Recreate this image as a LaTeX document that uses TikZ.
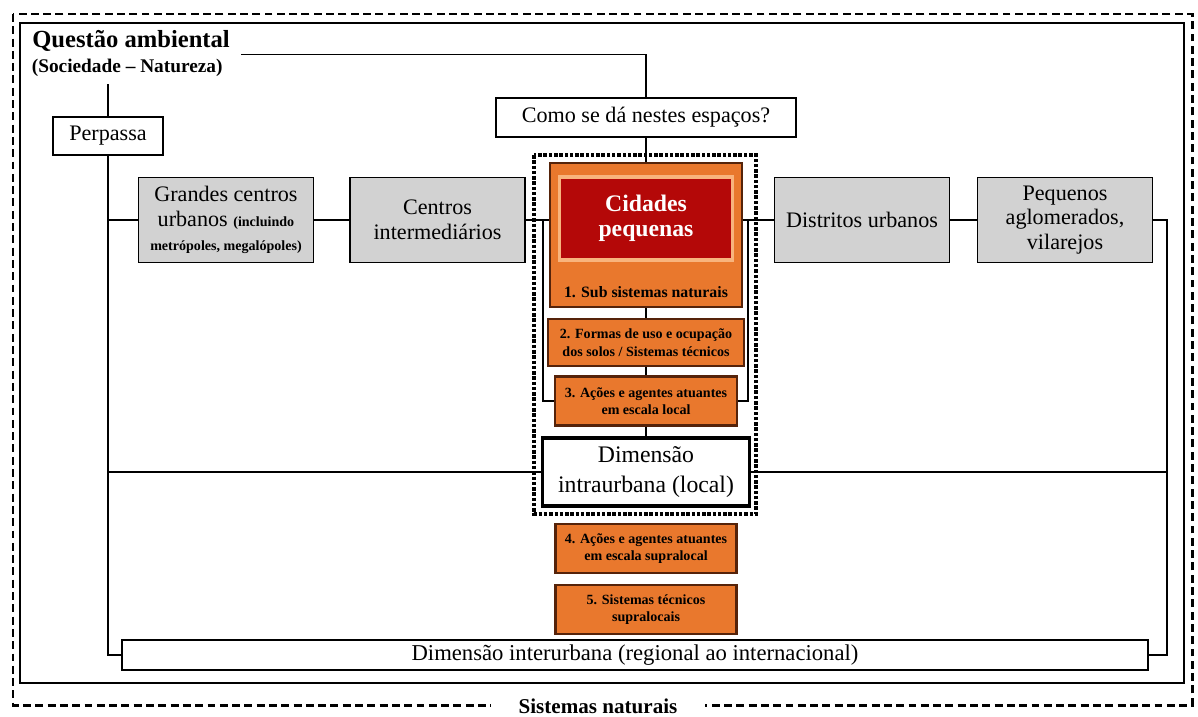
\documentclass[tikz,border=0pt]{standalone}
\usepackage{fontspec}
\setmainfont{Liberation Serif}
\usetikzlibrary{positioning}
\definecolor{boxgray}{RGB}{210,210,210}
\definecolor{cidorange}{RGB}{233,120,45}
\definecolor{cidred}{RGB}{180,8,8}
\definecolor{cidedge}{RGB}{85,35,10}
\definecolor{glow}{RGB}{248,180,125}
\newcommand{\smallnote}[1]{{\fontsize{8}{14}\bfseries\selectfont #1}}

\begin{document}
\begin{tikzpicture}[x=0.02cm,y=-0.02cm,inner sep=0pt,align=center,
	link/.style={draw,line width=0.7pt},
	whitebox/.style={draw,line width=1pt,fill=white},
	graybox/.style={draw,line width=1.1pt,fill=boxgray,minimum width=3.5cm,minimum height=1.7cm,font=\fontsize{12.6}{14}\selectfont},
	orangebox/.style={draw=cidedge,line width=1.2pt,fill=cidorange,minimum width=3.62cm,minimum height=0.98cm,font=\fontsize{8}{10}\bfseries\selectfont}]
	\useasboundingbox (0,0) rectangle (1198,717);
	% frames
	\draw[line width=1.7pt,dash pattern=on 4.5pt off 2.5pt] (13,14) rectangle (1192,705);
	\draw[line width=0.8pt] (20,23) rectangle (1184,683);
	\node[fill=white,inner xsep=0.55cm,inner ysep=2pt,font=\fontsize{12}{14}\bfseries\selectfont] (natural) at (598,706) {Sistemas naturais};
	
	\node[anchor=base west,inner xsep=0.22cm,inner ysep=0.06cm,font=\fontsize{14}{16}\bfseries\selectfont] (questao) at (21,47) {Questão ambiental};
	\node[anchor=base west,inner sep=0.15cm,font=\fontsize{11}{13}\bfseries\selectfont] (socnat) at (24,72) {(Sociedade – Natureza)};
	\node[whitebox,minimum width=2.2cm,minimum height=0.76cm,font=\fontsize{12.6}{14}\selectfont] (perpassa) at (108,136) {Perpassa};
	\node[whitebox,minimum width=6cm,minimum height=0.78cm,font=\fontsize{12.6}{14}\selectfont] (como) at (646,117.5) {Como se dá nestes espaços?};
	
	% row of places
	\node[graybox] (grandes) at (226,220) {Grandes centros\\urbanos \smallnote{(incluindo}\\\smallnote{metrópoles, megalópoles)}};
	\node[graybox] (centros) at (437.5,220) {Centros\\intermediários};
	\node[graybox] (distritos) at (862,220) {Distritos urbanos};
	\node[graybox] (pequenos) at (1065,220) {Pequenos\\aglomerados,\\vilarejos};
	
	% local dimension
	\draw[line width=2pt,densely dotted] (534,155) rectangle (756,514);
	\node[draw=cidedge,line width=1.2pt,fill=cidorange,minimum width=3.84cm,minimum height=2.88cm] (cidbox) at (646,235) {};
	\node[draw=glow,line width=2pt,fill=cidred,text=white,minimum width=3.46cm,minimum height=1.66cm,font=\fontsize{13.5}{14.5}\bfseries\selectfont] (cidades) at (646,218.5) {Cidades\\pequenas};
	\node[font=\fontsize{9}{11}\bfseries\selectfont] (sub1) at (646,292) {1. Sub sistemas naturais};
	\node[orangebox,minimum width=3.92cm,minimum height=0.94cm] (formas) at (646,342.5) {2. Formas de uso e ocupação\\dos solos / Sistemas técnicos};
	\node[orangebox,minimum width=3.64cm] (acoes) at (646,401) {3. Ações e agentes atuantes\\em escala local};
	\node[whitebox,line width=1.8pt,minimum width=4.14cm,minimum height=1.36cm,font=\fontsize{13.5}{17}\selectfont] (intra) at (646,472) {Dimensão\\intraurbana (local)};
	
	% supralocal
	\node[orangebox] (supra) at (646,548.5) {4. Ações e agentes atuantes\\em escala supralocal};
	\node[orangebox,below=0.2cm of supra] (tecnicos) {5. Sistemas técnicos\\supralocais};
	\node[whitebox,minimum width=20.52cm,minimum height=0.6cm,font=\fontsize{12.9}{14}\selectfont] (inter) at (635,655) {Dimensão interurbana (regional ao internacional)};
	
	\coordinate (rjoin) at (1167,220);
	\coordinate (lbrace) at (543,220);
	\coordinate (rbrace) at (748,220);
	
	\path[link] (questao.south east) -| (como.north);
	\path[link] (perpassa.north) edge (perpassa.north |- socnat.south)
	(grandes.west -| perpassa.south) edge (grandes.west)
	(grandes) edge (centros)
	(centros) edge (centros -| cidbox.west)
	(cidbox.east |- distritos) edge (distritos)
	(distritos) edge (pequenos)
	(como) edge (como |- cidbox.north)
	(cidbox) edge (formas)
	(formas) edge (acoes)
	(acoes) edge (intra)
	(perpassa.south |- intra.west) edge (intra.west)
	(intra.east) edge (rjoin |- intra.east);
	\draw[link] (perpassa.south) |- (inter.west);
	\draw[link] (pequenos.east) -- (rjoin) |- (inter.east);
	\draw[link] (lbrace) |- (acoes.west);
	\draw[link] (rbrace) |- (acoes.east);
\end{tikzpicture}
\end{document}
